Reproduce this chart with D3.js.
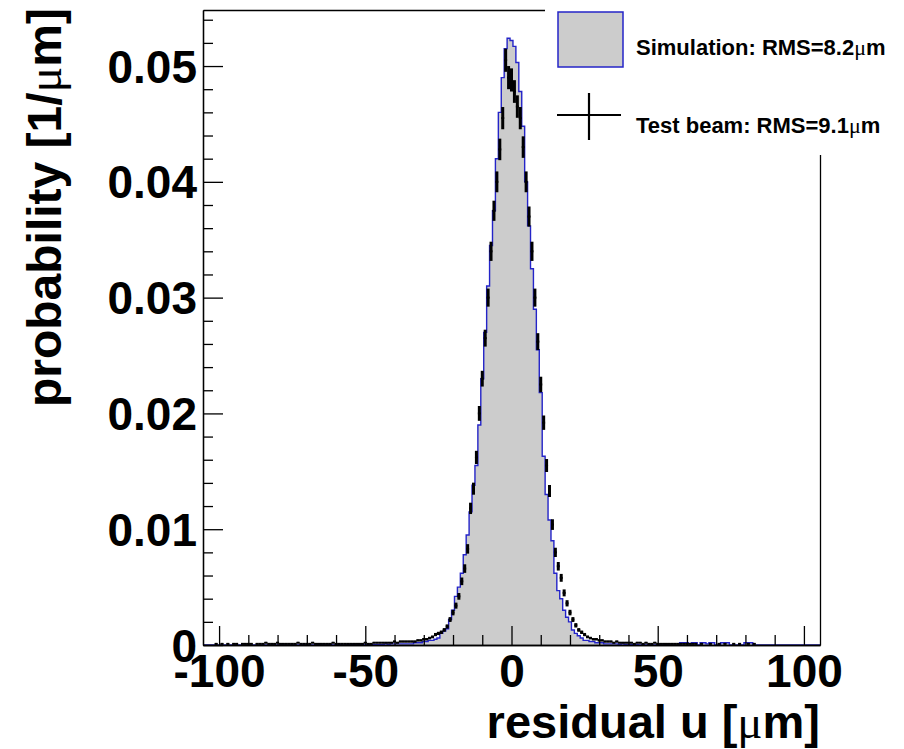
<!DOCTYPE html>
<html>
<head>
<meta charset="utf-8">
<script src="https://cdn.jsdelivr.net/npm/d3@7"></script>
<style>
  body { margin: 0; background: #fff; }
  svg { display: block; }
</style>
</head>
<body>
<svg id="chart" width="904" height="749"></svg>
<script>
// histogram binning: 211 bins of 1 um, centres at -105 ... 105
const binLow = -105.5;
const binWidth = 1;

// simulation, normalised to 1/um
const simValues = [
  0,0,0,0,0,0,0,0,0,0,
  0,0,0,0,0,0,0,0,0,0,
  0,0,0,0,0,0,0,0,0,0,
  0,0,0,0,0,0,0,0,0,0.00005,
  0,0,0,0.00005,0,0,0.00005,0,0,0.00005,
  0,0.00005,0,0.00005,0.00005,0,0.00005,0.00005,0.00005,0.00005,
  0.00005,0.00005,0.0001,0.00005,0.0001,0.0001,0.0001,0.0001,0.0001,0.0001,
  0.0001,0.0001,0.0002,0.0002,0.0002,0.0003,0.0003,0.0004,0.0004,0.0005,
  0.0006,0.0010,0.0012,0.0014,0.0022,0.0030,0.0042,0.0050,0.0062,0.0078,
  0.0095,0.0115,0.0138,0.0155,0.0190,0.0230,0.0270,0.0310,0.0345,0.0375,
  0.0420,0.0460,0.0490,0.0515,0.0524,0.0522,0.0517,0.0503,0.0478,0.0448,
  0.0400,0.0362,0.0325,0.0290,0.0255,0.0218,0.0163,0.0130,0.0108,0.0090,
  0.0062,0.0047,0.0040,0.0030,0.0024,0.0020,0.0013,0.0010,0.0008,0.0006,
  0.0004,0.0004,0.0003,0.0003,0.0002,0.0002,0.0002,0.0001,0.0001,0.0001,
  0.0001,0.0001,0.00005,0.0001,0.00005,0.00005,0.00005,0,0.00005,0,
  0.00005,0,0.00005,0,0,0.00005,0,0,0.00005,0,
  0,0,0,0.0002,0.0002,0.0002,0.0001,0.0002,0.0002,0,
  0.0002,0.0002,0.0001,0.0002,0.0002,0,0,0.0002,0.0002,0.0002,
  0,0,0,0,0,0.0002,0.0002,0.0002,0,0,
  0,0,0,0,0,0,0,0,0,0,
  0,0,0,0,0,0,0,0,0,0,0
];

// test beam data and its errors
const beamValues = [
  0,0,0,0,0.0001,0,0.0001,0,0.0001,0,
  0.0001,0.0001,0,0.0001,0.0001,0.0001,0.0001,0,0.0001,0.0001,
  0.0001,0.0002,0.0001,0.0001,0.0001,0.0002,0.0001,0.0001,0.0001,0.0001,
  0.0001,0.0001,0.0002,0.0001,0.0001,0.0001,0.0001,0.0002,0.0001,0.0001,
  0.0001,0.0001,0.0001,0.0001,0.0002,0.0001,0.0001,0.0001,0.0001,0.0001,
  0.0001,0.0001,0.0001,0.0001,0.0001,0.0002,0.0001,0.0001,0.0002,0.0002,
  0.0002,0.0002,0.0002,0.0002,0.0002,0.0003,0.0002,0.0003,0.0003,0.0003,
  0.0003,0.0003,0.0003,0.0004,0.0004,0.0005,0.0005,0.0006,0.0007,0.0009,
  0.0010,0.0011,0.0013,0.0016,0.0022,0.0028,0.0034,0.0042,0.0055,0.0066,
  0.0083,0.0118,0.0135,0.0162,0.0200,0.0230,0.0265,0.0300,0.0340,0.0375,
  0.0400,0.0428,0.0455,0.0505,0.0490,0.0488,0.0478,0.0465,0.0455,0.0430,
  0.0400,0.0370,0.0340,0.0300,0.0262,0.0225,0.0192,0.0155,0.0133,0.0104,
  0.0080,0.0068,0.0058,0.0045,0.0036,0.0028,0.0022,0.0017,0.0013,0.0011,
  0.0009,0.0007,0.0006,0.0005,0.0005,0.0004,0.0004,0.0003,0.0003,0.0003,
  0.0002,0.0003,0.0002,0.0002,0.0002,0.0002,0.0002,0.0001,0.0002,0.0002,
  0.0001,0.0002,0.0001,0.0001,0.0002,0.0001,0.0001,0.0001,0.0001,0.0001,
  0.0001,0.0001,0.0001,0.0001,0.0001,0.0001,0.0001,0.0001,0.0001,0,
  0.0001,0,0,0.0001,0,0,0.0001,0,0.0001,0,
  0,0.0001,0,0.0001,0,0,0.0001,0,0.0001,0,
  0,0,0,0,0,0,0,0,0,0,
  0,0,0,0,0,0,0,0,0,0,0
];

const beamErrors = [
  0,0,0,0,0.00005,0,0.00005,0,0.00005,0,
  0.00005,0.00005,0,0.00005,0.00005,0.00005,0.00005,0,0.00005,0.00005,
  0.00005,0.00006,0.00005,0.00005,0.00005,0.00006,0.00005,0.00005,0.00005,0.00005,
  0.00005,0.00005,0.00006,0.00005,0.00005,0.00005,0.00005,0.00006,0.00005,0.00005,
  0.00005,0.00005,0.00005,0.00005,0.00006,0.00005,0.00005,0.00005,0.00005,0.00005,
  0.00005,0.00005,0.00005,0.00005,0.00005,0.00006,0.00005,0.00005,0.00006,0.00006,
  0.00006,0.00006,0.00006,0.00006,0.00006,0.00008,0.00006,0.00008,0.00008,0.00008,
  0.00008,0.00008,0.00008,0.00009,0.00009,0.0001,0.0001,0.00011,0.00012,0.00014,
  0.00014,0.00015,0.00016,0.00018,0.00021,0.00024,0.00026,0.00029,0.00033,0.00037,
  0.00041,0.00049,0.00052,0.00057,0.00064,0.00068,0.00073,0.00078,0.00083,0.00087,
  0.0009,0.00093,0.00096,0.001,0.001,0.001,0.00098,0.00097,0.00096,0.00093,
  0.0009,0.00087,0.00083,0.00078,0.00073,0.00067,0.00062,0.00056,0.00052,0.00046,
  0.0004,0.00037,0.00034,0.0003,0.00027,0.00024,0.00021,0.00019,0.00016,0.00015,
  0.00014,0.00012,0.00011,0.0001,0.0001,0.00009,0.00009,0.00008,0.00008,0.00008,
  0.00006,0.00008,0.00006,0.00006,0.00006,0.00006,0.00006,0.00005,0.00006,0.00006,
  0.00005,0.00006,0.00005,0.00005,0.00006,0.00005,0.00005,0.00005,0.00005,0.00005,
  0.00005,0.00005,0.00005,0.00005,0.00005,0.00005,0.00005,0.00005,0.00005,0,
  0.00005,0,0,0.00005,0,0,0.00005,0,0.00005,0,
  0,0.00005,0,0.00005,0,0,0.00005,0,0.00005,0,
  0,0,0,0,0,0,0,0,0,0,
  0,0,0,0,0,0,0,0,0,0,0
];

const xMajorTicks = [-100, -50, 0, 50, 100];
const yMajorTicks = [0, 0.01, 0.02, 0.03, 0.04, 0.05];
const xTitle = "residual u [";
const yTitle = "probability [1/";
const legendLabels = ["Simulation: RMS=8.2", "Test beam: RMS=9.1"];

const bigFont = "'Liberation Sans', Arial, Helvetica, sans-serif";
const muFont = "'Liberation Serif', 'DejaVu Serif', serif";
const simFill = "#cccccc";
const simLine = "#2424c8";

const svg = d3.select("#chart");

const x = d3.scaleLinear().domain([-105.5, 105.5]).range([203, 820]);
const y = d3.scaleLinear().domain([0, 0.05484]).range([645, 10]);

let bins = simValues.map(function (v, i) {
    return {
        x0: binLow + i * binWidth,
        x1: binLow + (i + 1) * binWidth,
        sim: v,
        beam: beamValues[i],
        err: beamErrors[i]
    };
});

// simulation histogram, filled steps with blue outline
let steps = [];
bins.forEach(function (b) {
    steps.push([b.x0, b.sim]);
    steps.push([b.x1, b.sim]);
});

let area = d3.area()
    .x(d => x(d[0]))
    .y0(y(0))
    .y1(d => y(d[1]));

let outline = d3.line()
    .x(d => x(d[0]))
    .y(d => y(d[1]));

svg.append("path")
    .attr("d", area(steps))
    .attr("fill", simFill);

svg.append("path")
    .attr("d", outline(steps))
    .attr("fill", "none")
    .attr("stroke", simLine)
    .attr("stroke-width", 1.4);

// test beam points with error bars
let pts = bins.filter(b => b.beam > 0);
let beam = svg.append("g").attr("stroke", "#000");

beam.selectAll("line.ey")
    .data(pts)
    .join("line")
    .attr("class", "ey")
    .attr("x1", d => x((d.x0 + d.x1) / 2))
    .attr("x2", d => x((d.x0 + d.x1) / 2))
    .attr("y1", d => y(d.beam - d.err))
    .attr("y2", d => y(d.beam + d.err))
    .attr("stroke-width", 3);

beam.selectAll("line.ex")
    .data(pts)
    .join("line")
    .attr("class", "ex")
    .attr("x1", d => x(d.x0))
    .attr("x2", d => x(d.x1))
    .attr("y1", d => y(d.beam))
    .attr("y2", d => y(d.beam))
    .attr("stroke-width", 2);

// axes, ROOT style ticks pointing inwards
let xMinor = d3.range(-100, 101, 10).filter(v => xMajorTicks.indexOf(v) < 0);
let yMinor = d3.range(1, 28).map(k => k * 0.002).filter(v => Math.abs(v * 100 - Math.round(v * 100)) > 1e-6);

function styleAxis(g) {
    g.selectAll("path, line").attr("stroke", "#000").attr("stroke-width", 1.3);
    g.attr("font-family", bigFont).attr("font-size", 46).attr("font-weight", "bold");
}

let gxMinor = svg.append("g").attr("transform", "translate(0,645)")
    .call(d3.axisBottom(x).tickValues(xMinor).tickSize(-10).tickSizeOuter(0).tickFormat(""));
styleAxis(gxMinor);

let gx = svg.append("g").attr("transform", "translate(0,645)")
    .call(d3.axisBottom(x).tickValues(xMajorTicks).tickSize(-19).tickSizeOuter(0)
        .tickFormat(d => String(d)));
styleAxis(gx);
gx.selectAll("text").attr("y", 42).attr("dy", null).attr("fill", "#000");

let gyMinor = svg.append("g").attr("transform", "translate(203,0)")
    .call(d3.axisLeft(y).tickValues(yMinor).tickSize(-10).tickSizeOuter(0).tickFormat(""));
styleAxis(gyMinor);

let gy = svg.append("g").attr("transform", "translate(203,0)")
    .call(d3.axisLeft(y).tickValues(yMajorTicks).tickSize(-20).tickSizeOuter(0).tickPadding(6)
        .tickFormat(d => d === 0 ? "0" : d3.format(".2f")(d)));
styleAxis(gy);
gy.selectAll("text").attr("dy", "0.35em").attr("fill", "#000");

// top and right side of the frame
let gTop = svg.append("g").attr("transform", "translate(0,10)")
    .call(d3.axisTop(x).tickValues([]).tickSizeOuter(0));
styleAxis(gTop);
let gRight = svg.append("g").attr("transform", "translate(820,0)")
    .call(d3.axisRight(y).tickValues([]).tickSizeOuter(0));
styleAxis(gRight);

// axis titles
let xt = svg.append("text")
    .attr("x", 820)
    .attr("y", 738)
    .attr("text-anchor", "end")
    .attr("font-family", bigFont)
    .attr("font-size", 47)
    .attr("font-weight", "bold");
xt.append("tspan").text(xTitle);
xt.append("tspan").attr("font-family", muFont).attr("font-weight", "normal").text("\u03bc");
xt.append("tspan").text("m]");

let yt = svg.append("text")
    .attr("transform", "translate(61,8) rotate(-90)")
    .attr("text-anchor", "end")
    .attr("font-family", bigFont)
    .attr("font-size", 48)
    .attr("font-weight", "bold");
yt.append("tspan").text(yTitle);
yt.append("tspan").attr("font-family", muFont).attr("font-weight", "normal").text("\u03bc");
yt.append("tspan").text("m]");

// legend
let legend = svg.append("g");

legend.append("rect")
    .attr("x", 545).attr("y", 0)
    .attr("width", 359).attr("height", 155)
    .attr("fill", "#fff");

legend.append("rect")
    .attr("x", 558).attr("y", 12)
    .attr("width", 65).attr("height", 55)
    .attr("fill", simFill)
    .attr("stroke", simLine)
    .attr("stroke-width", 1.5);

legend.append("line")
    .attr("x1", 557).attr("x2", 621).attr("y1", 115).attr("y2", 115)
    .attr("stroke", "#000").attr("stroke-width", 2.2);
legend.append("line")
    .attr("x1", 589).attr("x2", 589).attr("y1", 93).attr("y2", 140)
    .attr("stroke", "#000").attr("stroke-width", 2.2);

let legendY = [55, 133];
legendLabels.forEach(function (label, i) {
    let t = legend.append("text")
        .attr("x", 636)
        .attr("y", legendY[i])
        .attr("font-family", bigFont)
        .attr("font-size", 22)
        .attr("font-weight", "bold");
    t.append("tspan").text(label);
    t.append("tspan").attr("font-family", muFont).attr("font-weight", "normal").text("\u03bc");
    t.append("tspan").text("m");
});
</script>
</body>
</html>
